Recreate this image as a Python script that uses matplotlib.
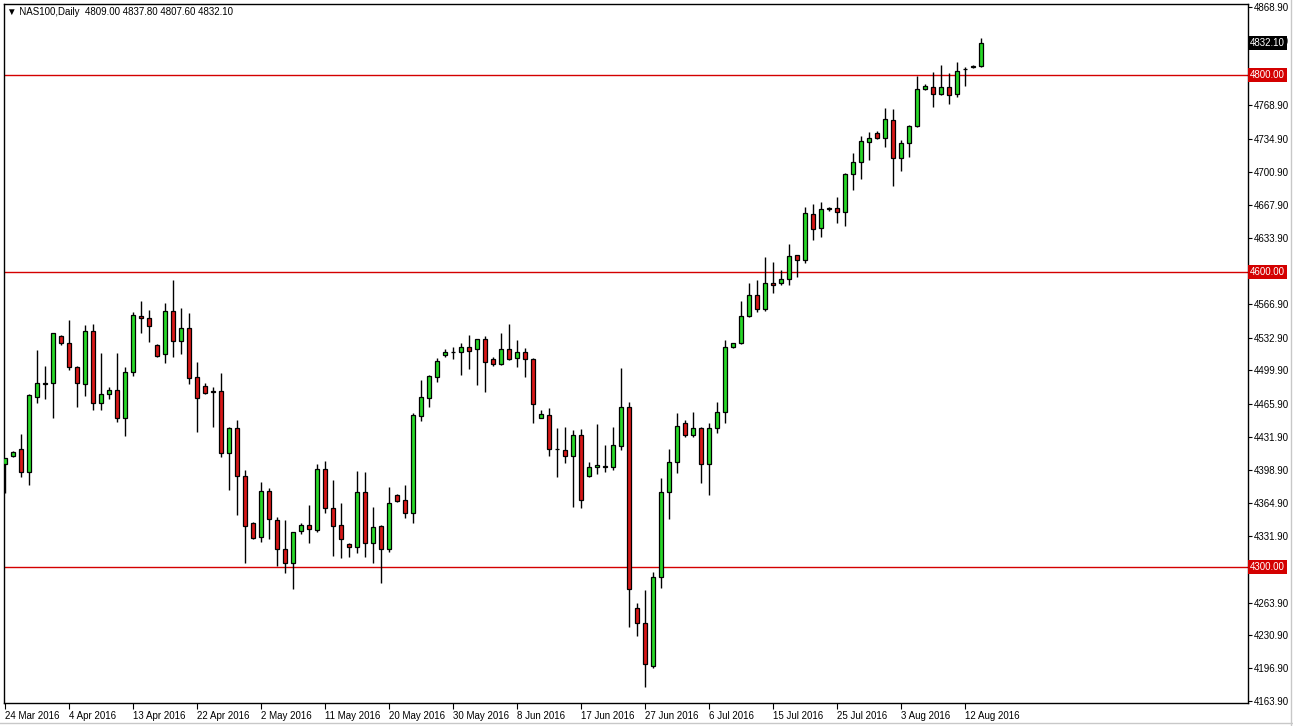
import numpy as np
import matplotlib.pyplot as plt
from matplotlib.patches import Rectangle
from matplotlib.transforms import blended_transform_factory

plt.rcParams["font.family"] = ["Liberation Sans", "DejaVu Sans"]

# daily OHLC, one bar per session (broker also prints Sunday bars)
opens = [4404.6, 4412.7, 4419.5, 4396.1, 4473.0, 4486.0, 4486.6, 4534.9, 4527.2, 4502.8,
         4485.6, 4539.7, 4466.2, 4475.4, 4479.8, 4451.0, 4498.4, 4555.3, 4552.6, 4525.5,
         4516.0, 4560.0, 4529.8, 4542.4, 4492.7, 4484.1, 4478.5, 4478.7, 4415.4, 4440.8,
         4392.7, 4344.3, 4330.7, 4377.1, 4347.7, 4317.9, 4303.7, 4336.5, 4342.6, 4337.5,
         4399.2, 4359.6, 4342.6, 4323.3, 4320.6, 4375.8, 4324.0, 4341.6, 4317.9, 4373.1,
         4368.0, 4354.5, 4453.7, 4471.9, 4493.3, 4515.3, 4518.2, 4518.7, 4523.1, 4521.1,
         4531.3, 4511.0, 4506.2, 4521.1, 4512.0, 4518.1, 4511.0, 4451.6, 4454.4, 4420.0,
         4418.8, 4413.0, 4434.0, 4392.7, 4401.2, 4402.0, 4401.2, 4423.2, 4462.2, 4258.0,
         4242.7, 4199.7, 4289.5, 4375.8, 4406.3, 4446.5, 4434.0, 4441.5, 4404.3, 4441.5,
         4457.7, 4523.8, 4527.2, 4555.3, 4576.3, 4561.8, 4588.8, 4588.2, 4592.2, 4616.9,
         4611.8, 4658.6, 4644.0, 4664.0, 4664.4, 4660.9, 4698.9, 4711.7, 4732.0, 4740.6,
         4736.1, 4754.1, 4715.2, 4730.4, 4748.3, 4785.6, 4787.9, 4780.2, 4787.9, 4780.2,
         4805.5, 4807.6, 4809.0]
highs = [4410.4, 4418.0, 4435.1, 4476.0, 4520.4, 4504.1, 4538.0, 4536.0, 4550.9, 4504.4,
         4545.8, 4546.8, 4517.7, 4483.1, 4517.0, 4503.4, 4559.3, 4570.2, 4561.0, 4527.0,
         4567.8, 4591.5, 4563.4, 4558.3, 4508.5, 4486.6, 4482.5, 4496.7, 4442.5, 4449.3,
         4398.5, 4345.3, 4386.0, 4379.9, 4350.4, 4347.7, 4336.0, 4344.3, 4362.9, 4404.6,
         4407.9, 4388.3, 4365.3, 4324.6, 4397.5, 4396.1, 4361.2, 4342.6, 4381.5, 4374.0,
         4383.2, 4456.7, 4489.9, 4495.0, 4512.0, 4521.1, 4523.8, 4527.8, 4535.6, 4532.0,
         4534.6, 4513.6, 4538.0, 4546.8, 4530.6, 4522.7, 4512.6, 4459.4, 4461.2, 4440.8,
         4442.5, 4439.1, 4439.8, 4406.9, 4445.2, 4423.9, 4442.5, 4501.8, 4467.9, 4263.0,
         4276.6, 4294.5, 4390.0, 4419.5, 4456.1, 4449.3, 4457.7, 4442.0, 4446.5, 4467.9,
         4530.6, 4527.5, 4570.2, 4588.8, 4591.5, 4615.2, 4610.1, 4601.7, 4628.1, 4617.0,
         4666.0, 4668.7, 4670.5, 4666.0, 4675.5, 4700.0, 4720.2, 4737.8, 4742.2, 4742.9,
         4766.0, 4765.0, 4733.8, 4749.0, 4799.1, 4790.3, 4802.5, 4810.0, 4802.1, 4812.7,
         4807.6, 4810.0, 4837.8]
lows = [4375.0, 4412.0, 4391.1, 4383.2, 4466.2, 4470.6, 4451.0, 4526.0, 4500.1, 4462.8,
        4473.7, 4459.4, 4459.4, 4470.3, 4447.6, 4433.3, 4494.0, 4537.4, 4528.8, 4513.6,
        4507.5, 4513.6, 4516.0, 4485.6, 4437.4, 4475.7, 4442.5, 4412.0, 4378.2, 4352.8,
        4304.3, 4328.0, 4325.6, 4328.1, 4300.9, 4293.5, 4277.3, 4333.2, 4324.0, 4335.8,
        4355.1, 4311.1, 4308.8, 4310.4, 4313.8, 4310.4, 4303.7, 4283.4, 4315.5, 4366.0,
        4349.4, 4344.3, 4448.6, 4462.8, 4488.2, 4513.6, 4511.3, 4495.0, 4500.8, 4484.8,
        4478.0, 4504.4, 4505.2, 4510.2, 4503.4, 4493.3, 4445.9, 4451.0, 4413.0, 4391.7,
        4405.3, 4361.2, 4360.2, 4391.7, 4394.1, 4396.1, 4398.5, 4418.8, 4239.3, 4229.8,
        4178.3, 4197.0, 4278.3, 4348.4, 4395.7, 4432.3, 4432.3, 4385.0, 4373.1, 4436.4,
        4446.5, 4522.1, 4527.0, 4553.6, 4559.3, 4560.3, 4578.6, 4586.4, 4586.4, 4594.3,
        4609.0, 4632.2, 4634.9, 4662.0, 4649.7, 4646.7, 4683.0, 4694.1, 4713.4, 4734.8,
        4727.0, 4687.3, 4702.6, 4716.8, 4747.3, 4784.6, 4767.6, 4780.0, 4770.0, 4777.8,
        4788.9, 4806.6, 4807.6]
closes = [4410.4, 4417.1, 4396.8, 4474.7, 4486.6, 4486.6, 4537.4, 4527.2, 4502.8, 4486.6,
          4539.7, 4466.2, 4475.4, 4479.8, 4451.0, 4498.4, 4556.0, 4552.6, 4545.1, 4514.6,
          4560.0, 4529.8, 4542.4, 4492.3, 4471.9, 4477.0, 4478.0, 4415.4, 4440.8, 4392.7,
          4341.9, 4329.7, 4377.1, 4348.4, 4317.9, 4303.7, 4335.2, 4342.6, 4338.2, 4399.2,
          4359.6, 4341.9, 4328.4, 4320.6, 4375.8, 4324.0, 4340.9, 4317.9, 4364.6, 4367.3,
          4354.5, 4454.4, 4472.3, 4494.0, 4509.2, 4518.7, 4518.7, 4523.1, 4519.7, 4531.3,
          4508.5, 4506.2, 4521.1, 4511.3, 4518.1, 4511.0, 4465.2, 4455.1, 4419.5, 4419.5,
          4413.0, 4434.0, 4368.0, 4401.8, 4403.6, 4402.5, 4423.9, 4462.2, 4277.3, 4242.7,
          4201.1, 4289.5, 4375.8, 4406.3, 4443.2, 4434.0, 4441.5, 4404.3, 4441.5, 4457.7,
          4523.1, 4527.2, 4555.3, 4576.3, 4561.8, 4588.2, 4586.4, 4592.2, 4615.9, 4611.8,
          4659.3, 4643.0, 4663.4, 4664.4, 4660.9, 4699.2, 4711.1, 4732.7, 4735.5, 4736.1,
          4754.8, 4715.2, 4730.4, 4748.3, 4785.3, 4788.6, 4780.2, 4787.9, 4779.5, 4804.2,
          4806.2, 4809.0, 4832.1]

date_labels = ["24 Mar 2016", "4 Apr 2016", "13 Apr 2016", "22 Apr 2016", "2 May 2016",
               "11 May 2016", "20 May 2016", "30 May 2016", "8 Jun 2016", "17 Jun 2016",
               "27 Jun 2016", "6 Jul 2016", "15 Jul 2016", "25 Jul 2016", "3 Aug 2016",
               "12 Aug 2016"]
bars_per_label = 8

price_ticks = [4868.90, 4834.90, 4768.90, 4734.90, 4700.90, 4667.90, 4633.90, 4566.90,
               4532.90, 4499.90, 4465.90, 4431.90, 4398.90, 4364.90, 4331.90, 4263.90,
               4230.90, 4196.90, 4163.90]
levels = [4800.0, 4600.0, 4300.0]

BULL = "#28d828"
BEAR = "#d81818"
LEVEL = "#d40000"
FS = 7

fig = plt.figure(figsize=(12.93, 7.26), dpi=100)
fig.patch.set_facecolor("white")
ax = fig.add_axes([4 / 1293, 23 / 726, 1244 / 1293, 699 / 726])
ax.set_xlim(-0.125, 155.375)
ax.set_ylim(4161.8, 4872.0)

for lv in levels:
    ax.axhline(lv, color=LEVEL, lw=1.0, zorder=1)

body_w = 0.6
for i, (o, h, l, c) in enumerate(zip(opens, highs, lows, closes)):
    ax.vlines(i, l, h, color="black", lw=1.0, zorder=2)
    lo, hi = min(o, c), max(o, c)
    face = BULL if c >= o else BEAR
    ax.add_patch(Rectangle((i - body_w / 2, lo), body_w, max(hi - lo, 0.01),
                           facecolor=face, edgecolor="black", lw=0.9, zorder=3))

# axes look
for sp in ax.spines.values():
    sp.set_color("black")
    sp.set_linewidth(1.0)
ax.yaxis.tick_right()
ax.set_yticks(price_ticks)
ax.set_yticklabels([f"{p:.2f}" for p in price_ticks])
ax.tick_params(axis="y", direction="out", length=3, width=0.8, pad=1.5,
               labelsize=FS, colors="black")
ax.set_xticks([k * bars_per_label for k in range(len(date_labels))])
ax.set_xticklabels(date_labels)
ax.tick_params(axis="x", direction="out", length=4, width=0.8, pad=2,
               labelsize=FS, colors="black")
for lab in ax.get_xticklabels():
    lab.set_ha("left")

# price boxes on the right scale
tr = blended_transform_factory(ax.transAxes, ax.transData)
for lv in levels:
    ax.text(1.0015, lv, f"{lv:.2f}", transform=tr, fontsize=FS, color="white",
            va="center", ha="left", zorder=5,
            bbox=dict(boxstyle="square,pad=0.2", fc=LEVEL, ec="none"))
ax.text(1.0015, closes[-1], f"{closes[-1]:.2f}", transform=tr, fontsize=FS,
        color="white", va="center", ha="left", zorder=5,
        bbox=dict(boxstyle="square,pad=0.2", fc="black", ec="none"))

# header
fig.text(7 / 1293, 1 - 12 / 726,
         "\u25bc NAS100,Daily  %.2f %.2f %.2f %.2f" % (opens[-1], highs[-1], lows[-1], closes[-1]),
         fontsize=FS, va="center", ha="left")

# window frame
fig.add_artist(plt.Line2D([1291 / 1293, 1291 / 1293], [0, 1], color="#c8c8c8", lw=1))
fig.add_artist(plt.Line2D([0, 1], [3 / 726, 3 / 726], color="#c8c8c8", lw=1))

fig.savefig("out.png", dpi=100)
